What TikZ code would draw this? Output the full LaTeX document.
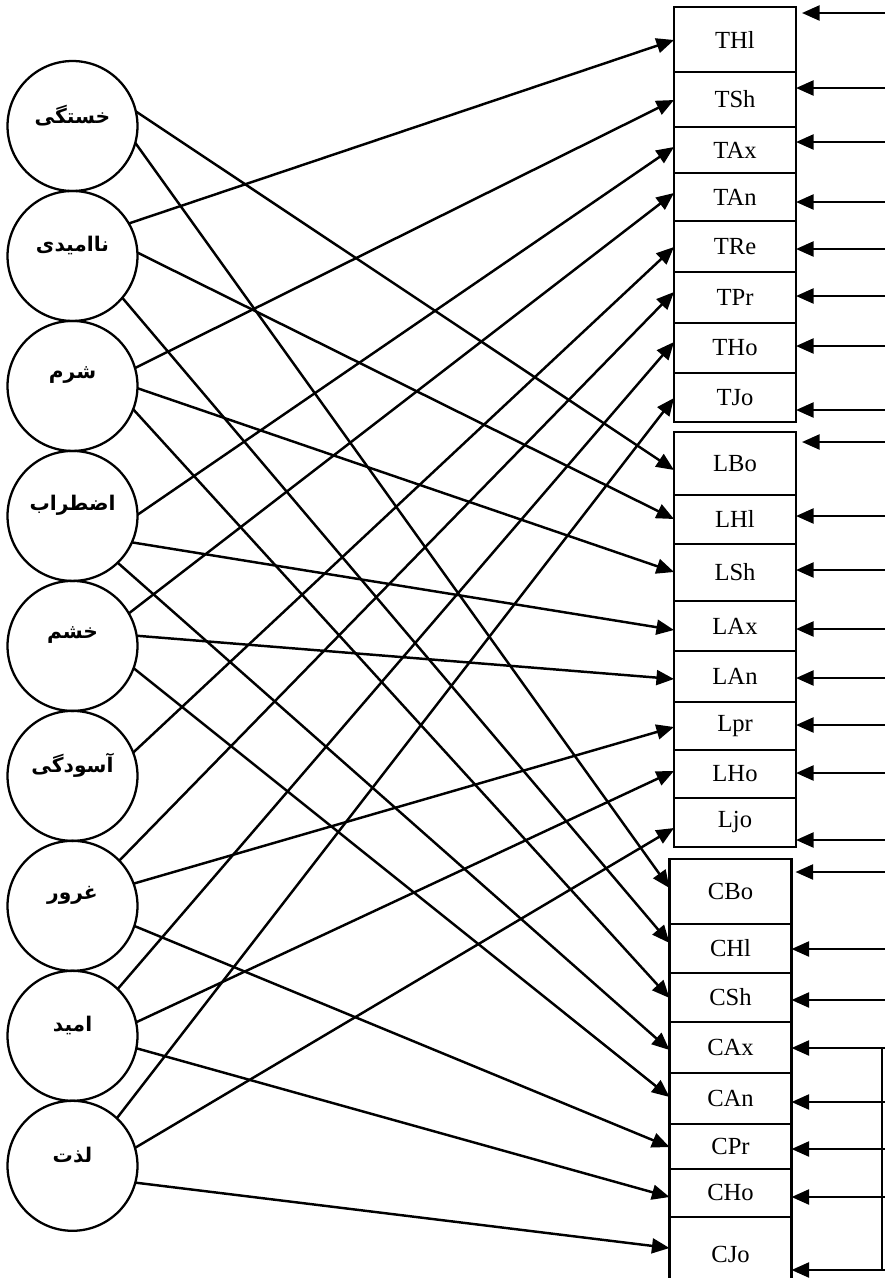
\documentclass[tikz,border=0pt]{standalone}
\usepackage{fontspec}
\setmainfont{Liberation Serif}
\newfontfamily\arabicfont[Script=Arabic]{DejaVu Sans}
\TeXXeTstate=1
\newcommand{\fa}[1]{\beginR#1\endR}
\usetikzlibrary{arrows.meta,positioning}

\begin{document}
\begin{tikzpicture}[
  x=0.02cm, y=-0.02cm,
  feel/.style={circle, draw, line width=1.3pt, minimum size=2.6cm,
    inner sep=0pt, outer sep=0pt},
  felt/.style={font=\arabicfont\bfseries\fontsize{11.5}{13}\selectfont, yshift=6pt},
  cell/.style={rectangle, draw, line width=1.3pt, minimum width=2.44cm,
    inner sep=0pt, outer sep=0pt, font=\fontsize{14}{16}\selectfont},
  arr/.style={-{Triangle[length=10pt,width=8.5pt]}, line width=1.4pt}
]
\useasboundingbox (0,0) rectangle (885,1278);

% emotions
\node[feel, label={[felt]center:\fa{خستگی}}] (khastegi) at (72.5,126) {};
\node[feel, below=0pt of khastegi, label={[felt]center:\fa{ناامیدی}}] (naomidi) {};
\node[feel, below=0pt of naomidi, label={[felt]center:\fa{شرم}}] (sharm) {};
\node[feel, below=0pt of sharm, label={[felt]center:\fa{اضطراب}}] (ezterab) {};
\node[feel, below=0pt of ezterab, label={[felt]center:\fa{خشم}}] (khashm) {};
\node[feel, below=0pt of khashm, label={[felt]center:\fa{آسودگی}}] (asoudegi) {};
\node[feel, below=0pt of asoudegi, label={[felt]center:\fa{غرور}}] (ghorour) {};
\node[feel, below=0pt of ghorour, label={[felt]center:\fa{امید}}] (omid) {};
\node[feel, below=0pt of omid, label={[felt]center:\fa{لذت}}] (lezzat) {};

% T block
\node[cell, minimum height=1.30cm] (THl) at (735,39.5) {THl};
\node[cell, minimum height=1.10cm, below=0pt of THl] (TSh) {TSh};
\node[cell, minimum height=0.92cm, below=0pt of TSh] (TAx) {TAx};
\node[cell, minimum height=0.96cm, below=0pt of TAx] (TAn) {TAn};
\node[cell, minimum height=1.02cm, below=0pt of TAn] (TRe) {TRe};
\node[cell, minimum height=1.02cm, below=0pt of TRe] (TPr) {TPr};
\node[cell, minimum height=1.00cm, below=0pt of TPr] (THo) {THo};
\node[cell, minimum height=0.98cm, below=0pt of THo] (TJo) {TJo};
% L block
\node[cell, minimum height=1.26cm, below=0.2cm of TJo] (LBo) {LBo};
\node[cell, minimum height=0.98cm, below=0pt of LBo] (LHl) {LHl};
\node[cell, minimum height=1.14cm, below=0pt of LHl] (LSh) {LSh};
\node[cell, minimum height=1.00cm, below=0pt of LSh] (LAx) {LAx};
\node[cell, minimum height=1.02cm, below=0pt of LAx] (LAn) {LAn};
\node[cell, minimum height=0.96cm, below=0pt of LAn] (Lpr) {Lpr};
\node[cell, minimum height=0.96cm, below=0pt of Lpr] (LHo) {LHo};
\node[cell, minimum height=0.98cm, below=0pt of LHo] (Ljo) {Ljo};
% C block
\node[cell, minimum height=1.30cm] (CBo) at (730.5,891.5) {CBo};
\node[cell, minimum height=0.98cm, below=0pt of CBo] (CHl) {CHl};
\node[cell, minimum height=0.98cm, below=0pt of CHl] (CSh) {CSh};
\node[cell, minimum height=1.02cm, below=0pt of CSh] (CAx) {CAx};
\node[cell, minimum height=1.02cm, below=0pt of CAx] (CAn) {CAn};
\node[cell, minimum height=0.90cm, below=0pt of CAn] (CPr) {CPr};
\node[cell, minimum height=0.96cm, below=0pt of CPr] (CHo) {CHo};
\node[cell, minimum height=1.50cm, below=0pt of CHo] (CJo) {CJo};

% inputs from the right
\foreach \b/\y/\g in {THl/13/6, TSh/88/0, TAx/142/0, TAn/202/0, TRe/249/0,
    TPr/296/0, THo/346/0, TJo/410/0, LBo/442/6, LHl/516/0, LSh/570/0,
    LAx/629/0, LAn/678/0, Lpr/725/0, LHo/773/0, Ljo/840/0, CBo/872/4,
    CHl/949/0, CSh/1000/0, CAx/1048/0, CAn/1102/0, CPr/1149/0,
    CHo/1197/0, CJo/1270/0}
  \draw[arr, shorten >=\g*0.02cm] (885,\y) coordinate (in\b) -- (\b.east |- in\b);
\coordinate (busTop) at (882,1048);
\coordinate (busBot) at (882,1270);
\draw[line width=1.4pt] (busTop) -- (busBot);

% emotions to T
\draw[arr] (naomidi.30) -- (THl.west |- 0,40);
\draw[arr] (sharm.16) -- (TSh.west |- 0,100);
\draw[arr] (ezterab.1) -- (TAx.west |- 0,147);
\draw[arr] (khashm.30) -- (TAn.west |- 0,193);
\draw[arr] (asoudegi.21) -- (TRe.west |- 0,247);
\draw[arr] (ghorour.44) -- (TPr.west |- 0,292);
\draw[arr] (omid.46) -- (THo.west |- 0,342);
\draw[arr] (lezzat.47) -- (TJo.west |- 0,398);
% emotions to L
\draw[arr] (khastegi.13) -- (LBo.west |- 0,470);
\draw[arr] (naomidi.3) -- (LHl.west |- 0,519);
\draw[arr] (sharm.-2) -- (LSh.west |- 0,572);
\draw[arr] (ezterab.-24) -- (LAx.west |- 0,630);
\draw[arr] (khashm.9) -- (LAn.west |- 0,679);
\draw[arr] (ghorour.20) -- (Lpr.west |- 0,727);
\draw[arr] (omid.12) -- (LHo.west |- 0,771);
\draw[arr] (lezzat.16) -- (Ljo.west |- 0,828);
% emotions to C
\draw[arr] (khastegi.-15) -- (CBo.west |- 0,888);
\draw[arr] (naomidi.-40) -- (CHl.west |- 0,943);
\draw[arr] (sharm.-21) -- (CSh.west |- 0,998);
\draw[arr] (ezterab.-46) -- (CAx.west |- 0,1050);
\draw[arr] (khashm.-20) -- (CAn.west |- 0,1097);
\draw[arr] (ghorour.-18) -- (CPr.west |- 0,1147);
\draw[arr] (omid.-11) -- (CHo.west |- 0,1197);
\draw[arr] (lezzat.-15) -- (CJo.west |- 0,1248);
\end{tikzpicture}
\end{document}
